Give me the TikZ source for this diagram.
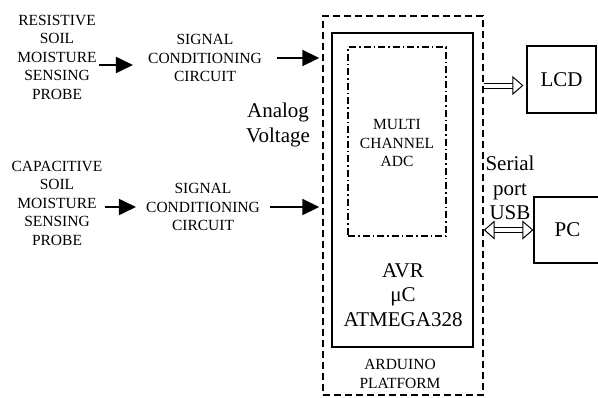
\documentclass[tikz,border=0pt]{standalone}
\usepackage{fontspec}
\setmainfont{Liberation Serif}
\usetikzlibrary{arrows.meta,positioning,calc}

\begin{document}
\begin{tikzpicture}[
  x=1pt, y=-1pt,
  small/.style={align=center, font=\fontsize{15.5}{18.5}\selectfont, inner sep=2pt},
  big/.style={align=center, font=\fontsize{21}{24.5}\selectfont, inner sep=0pt},
  block/.style={draw, line width=1.2pt, minimum width=#1, inner sep=0pt},
  arr/.style={line width=1.8pt, -{Triangle[length=17pt,width=16pt]}},
  dblarr/.style={double, double distance=4pt, line width=1pt},
  hollow/.tip={Triangle[open,length=11pt,width=19pt]}
]
\useasboundingbox (0,0) rectangle (598,397);

% left column
\node[small] (probeA) at (57,57) {RESISTIVE\\SOIL\\MOISTURE\\SENSING\\PROBE};
\node[small] (probeB) at (57,203) {CAPACITIVE\\SOIL\\MOISTURE\\SENSING\\PROBE};
\node[small, inner xsep=15pt] (condA) at (205,58) {SIGNAL\\CONDITIONING\\CIRCUIT};
\node[small, inner xsep=10pt] (condB) at (203,207) {SIGNAL\\CONDITIONING\\CIRCUIT};
\node[big] (analog) at (278,125) {Analog\\Voltage};

% arduino
\node[draw, dash pattern=on 7pt off 4pt, line width=1.4pt, minimum width=160pt, minimum height=379pt, inner sep=0pt] (arduino) at (403,205.5) {};
\node[block=141pt, minimum height=314pt] (mcu) at (402.5,190) {};
\node[draw, line width=1.2pt, dash pattern=on 7pt off 3pt on 1.5pt off 3pt, minimum width=98pt, minimum height=189pt] (adc) at (397,141.5) {};
\node[small] (adctext) at (397,143) {MULTI\\CHANNEL\\ADC};
\node[big] (avr) at (403,295) {AVR\\μC\\ATMEGA328};
\node[small] (platform) at (400,374) {ARDUINO\\PLATFORM};

% outputs
\node[block=69pt, minimum height=67pt, big] (lcd) at (561.5,79.5) {LCD};
\node[block=67pt, minimum height=66pt, big] (pc) at (567.5,230) {PC};
\node[big] (serial) at (510,188) {Serial\\port\\USB};

% connectors
\draw[arr] ([yshift=-8pt]probeA.east) -- ([yshift=-8pt]probeA.east -| condA.west);
\draw[arr] (probeB.east |- condB.west) -- (condB.west);
\draw[arr] (condA.east) -- ([xshift=-3pt]condA.east -| arduino.west);
\draw[arr] (condB.east) -- ([xshift=-3pt]condB.east -| arduino.west);
\draw[dblarr, -hollow, shorten >=3pt] ([yshift=-6pt]lcd.west -| arduino.east) -- ([yshift=-6pt]lcd.west);
\draw[dblarr, hollow-hollow] (pc.west -| arduino.east) -- (pc.west);
\end{tikzpicture}
\end{document}
